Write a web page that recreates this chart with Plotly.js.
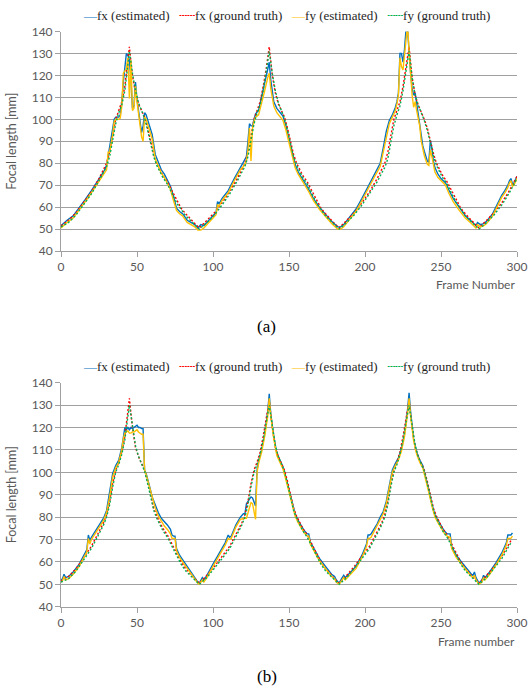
<!DOCTYPE html>
<html>
<head>
<meta charset="utf-8">
<script src="https://cdn.plot.ly/plotly-3.0.1.min.js"></script>
<style>html,body{margin:0;padding:0;background:#fff;}#chart{width:528px;height:689px;}</style>
</head>
<body>
<div id="chart"></div>
<script>
// ---------- Panel (a) ----------
const gtFramesA = [0,5,10,15,20,25,28,30,32,34,36,38,40,42,44,45,47,49,51,53,55,57,59,61,63,65,67,70,73,76,79,82,85,88,91,
  96,101,106,111,116,119,121,123,125,127,129,131,133,135,137,139,141,143,145,147,149,151,153,155,157,159,162,165,168,171,174,177,180,183,
  188,193,198,203,208,211,213,215,217,219,221,223,225,227,229,231,233,235,237,239,241,243,245,247,249,251,254,257,260,263,266,269,272,275,
  280,285,290,295,300];
const fxGtA = [51.5,54,57.5,62,67,73,77,80,85,93,100,104,108,115,127,133,120,112,107,104,101,96,90,84,80,77,74.5,71.5,67.5,63,59.5,57,54.5,52.5,50.5,
  54,57.5,62,67,73,77,80,85,93,100,104,108,115,123,133,120,112,107,104,101,96,90,84,80,77,74.5,71.5,67.5,63,59.5,57,54.5,52.5,50.5,
  54,57.5,62,67,73,77,80,85,93,100,104,108,115,124,133,119,111,106.5,103.5,100,96,90,84.5,80,77,74.5,71.5,67.5,63,59.5,57,54.5,52.5,50.5,
  54,57.5,62,67.5,74];
const fyGtA = [51,53,56.5,61,66,72,76,78.5,83,90,98,103,106.5,113,124,131,121,113,107.5,104,100.5,95,89,83,79,76,73.5,70.5,66.5,62,59,56,54,52,50,
  53,56.5,61,66,72,76,78.5,83,90,98,103,106.5,113,121,131,121,113,107.5,104,100.5,95,89,83,79,76,73.5,70.5,66.5,62,59,56,54,52,50,
  53,56.5,61,66,71.5,75.5,78,82,89,97,102,106,113,122,131,119,111,106.5,103,99.5,95,89,83.5,79,76,73.5,70.5,66.5,62,59,56,54,52,50,
  53,56.5,61,66.5,73];

const estFramesA = [0,4,8,12,16,20,24,28,30,31,32,34,35,36,38,39,40,41,42,43,44,45,46,47,48,49,50,51,52,53,54,55,56,57,58,60,62,64,66,68,70,72,74,76,78,80,83,86,88,90,
  92,94,96,98,100,102,103,104,106,110,114,118,120,122,123,124,125,126,127,128,130,132,134,136,137,138,140,142,144,146,148,150,152,154,156,158,160,163,166,170,174,178,182,
  184,186,190,194,198,202,206,210,212,214,216,218,220,221,222,223,224,225,226,227,228,229,230,231,232,233,234,235,236,237,238,239,240,241,242,243,244,245,246,248,250,253,255,258,262,266,270,273,274,
  276,278,280,284,286,288,290,292,294,295,296,297,298,300];
const fxEstA = [51.5,54,56,59.5,63.5,67.5,71.5,76,79,83,86,96,100,101,101,102,108,117,124,130,129,127,118,105,106,117,109,104,99,94,97,103,102,100,98,93,84,80,77,75,72,69.5,65,59.5,58,57,54,53,52,50.5,
  52,51.5,53,54.5,56,57.5,62.5,61.5,64,67.5,73,78,80,83,90,98,97,97,100,102.5,104,110,116,122,126,118,108,105,103.5,101.5,97,91,85,79.5,76,73.5,71.5,68,64,60,56.5,53.5,51,
  51,52,55.5,59,64,69.5,74.5,80,87,94.5,99.5,102,105.5,108,112,130,130,126,132,141,141,128,121,114,111,112,107,103,99,92,88,85.5,83.5,81,80.5,90.5,87,81,78,75,73,71,68,64,60,56,53.5,51.5,53,
  52,52.5,53.5,57,60,63,65.5,67.5,70,72,73,70.5,71,74];
const fyEstA = [50.5,53,55,58.5,62.5,66.5,70.5,74.5,77,85,85,93,99,100,100,100.5,106,121,122,123,128,109.5,127,104,105,115,108,103,96,92,90,101,100,98,96,91,82,78.5,75.5,73.5,71,68,63,58.5,57,56,53,52,51,49.5,
  49.5,50.5,52,53.5,55,56.5,61,60.5,63,66.5,72,77,78.5,81,86,96,81,96,99,101,102,107,113,119,121,114,106,103,101.5,99.5,95,89,82.5,78,75,72.5,70.5,67,63,59,55.5,52.5,50,
  50,51,54.5,58,63,68.5,73.5,78.5,85,92,98,101,104,107,111,128,124,122.5,130,138,143,131,120,111,105.5,108,104,100,97,90,86,83.5,81.5,79.5,79,86,83,78.5,76,73.5,72,70,66.5,62.5,58.5,55,52.5,50.5,52,
  51,51.5,52.5,56,59,62,64.5,66.5,69,71,72,69.5,70,73];

// ---------- Panel (b) ----------
const gtFramesB = [0,5,10,15,20,25,28,30,32,34,36,38,40,42,44,45,47,49,51,53,55,57,59,61,63,65,67,70,73,76,79,82,85,88,91,
  96,101,106,111,116,119,121,123,125,127,129,131,133,135,137,139,141,143,145,147,149,151,153,155,157,159,162,165,168,171,174,177,180,183,
  188,193,198,203,208,211,213,215,217,219,221,223,225,227,229,231,233,235,237,239,241,243,245,247,249,251,254,257,260,263,266,269,272,275,
  280,285,290,296];
const fxGtB = [51.5,53.5,57,62,67,73.5,77.5,81,87,95,101,104.5,109,116,127,133,120,111,107,104,101,96,90,84,80.5,77.5,75,72,68,63.5,60,57,54.5,52.5,50.5,
  54,58,62.5,67,73.5,77.5,81,87,95,101,104.5,109,116,124,132,120,111,107,104,101,96,90,84,80.5,77.5,75,72,68,63.5,60,57,54.5,52.5,50.5,
  54,58,62.5,67,73.5,77.5,81,87,95,101,104.5,109,116,124,132,120,111,107,104,101,96,90,84,80.5,77.5,75,72,68,63.5,60,57,54.5,52.5,50.5,
  54,58,62.5,69.5];
const fyGtB = [51,52.5,56,61,66,72.5,76.5,80,85.5,93.5,100,103.5,108,114.5,124,130,121,112,107,103.5,100.5,95,89,83,79.5,76.5,74,71,67,62.5,59,56,54,52,50,
  53,57,61.5,66,72.5,76.5,80,85.5,93.5,100,103.5,108,114.5,122,130,121,112,107,103.5,100.5,95,89,83,79.5,76.5,74,71,67,62.5,59,56,54,52,50,
  53,57,61.5,66,72.5,76.5,80,85.5,93.5,100,103.5,108,114.5,122,130,121,112,107,103.5,100.5,95,89,83,79.5,76.5,74,71,67,62.5,59,56,54,52,50,
  53,57,61.5,68.5];

const estFramesB = [0,1,2,3,5,8,12,16,17,18,19,20,24,28,30,32,34,36,38,40,41,42,43,44,45,46,47,48,49,50,51,52,53,54,55,56,58,60,62,64,66,68,70,72,73,74,75,76,78,80,84,86,87,88,90,
  91,92,93,94,96,100,104,108,110,111,112,115,118,120,121,122,124,125,126,127,128,129,130,132,134,136,137,138,140,142,144,146,148,150,152,154,156,158,160,162,163,164,166,170,174,178,180,181,
  183,184,185,186,187,190,194,198,200,201,202,203,204,208,210,212,214,215,216,218,220,222,224,226,228,229,230,232,234,236,238,240,242,244,246,248,250,252,254,256,257,260,264,268,270,271,272,273,275,277,278,279,282,286,290,292,293,294,296,297];
const fxEstB = [52,52.5,54.5,53,53.5,55.5,59,64,65.5,72,69.5,71,75,79.5,83,90.5,99.5,103,105.5,111,116,120,119,120,119,120,119.5,120,120.5,121,120,120,119.5,119.5,101,99.5,94.5,89,85.5,82,79.5,78,76.5,74.5,72,71.5,71.5,66,63,61,57,55,53.5,52.5,51,
  50.5,52,53,52,54,59,63.5,68.5,72,71,71.5,76.5,80,81.5,81.5,86,88,89,88.5,86.5,85,101,105,110,117,127,135,126,116,108.5,105.5,102.5,97.5,92,86,81.5,78.5,76,74,72.5,72.5,69,66.5,61.5,58,54.5,53.5,52,
  50.5,52,53,54,53,55,58,63,66,68,72,72,72.5,77,80,82.5,87,90.5,94,101,104,106.5,110.5,117,128,135.5,127,115,109,105.5,103,98,92,86,81,78.5,76,74,72.5,72.5,67,63,59.5,56,54.5,54,55.5,53,50.5,52,54,53,55.5,59.5,64,67,68.5,72,72,73];
const fyEstB = [51,51.5,53.5,52,52.5,54.5,58,63,64.5,70.5,68,70,74,78.5,82,89,98,102,104.5,110,115,117.5,118,118.5,117.5,117.5,118,118,118.5,119,118,117.5,117,117,101,99,94,88.5,84,80.5,78,76,74.5,72.5,70.5,70.5,70.5,65,62,60,56,54.5,53,52,50.5,
  50,51,52,51,53,58,62.5,67.5,70.5,70,70.5,75.5,79,79.5,79.5,79.5,85,86.5,86,83,79,100,104,109,116,125,133,125,115,107.5,104.5,101.5,96.5,91,85,80.5,77.5,75,73,71.5,71.5,68,65.5,60.5,57,53.5,52.5,51,
  50,51,52,53,52,54,57,62,65,67,70.5,70.5,71,76,79,81.5,86,89.5,93,100,103,105.5,109.5,116,126,133,125,114,108,104.5,102,97,91,85,80,77.5,75,73,71.5,71,66,62,58.5,55,53.5,53,54,52,50,51,53,52,54.5,58.5,63,66,67.5,70.5,70.5,71.5];

const xTicks = [0,50,100,150,200,250,300];
const seriesNames = ['fx (estimated)','fx (ground truth)','fy (estimated)','fy (ground truth)'];
const colors = ['#0070C0','#FF0000','#FFC000','#00B050'];

const lineStyle = (i) => ({color: colors[i], width: 1.4, dash: (i % 2 === 1) ? '2px,2px' : 'solid'});

function panel(xa, ya, fr, gfr, fxE, fxG, fyE, fyG) {
  return [
    {x: fr,  y: fxE, name: seriesNames[0], xaxis: xa, yaxis: ya, mode: 'lines', line: lineStyle(0), showlegend: false},
    {x: gfr, y: fxG, name: seriesNames[1], xaxis: xa, yaxis: ya, mode: 'lines', line: lineStyle(1), showlegend: false},
    {x: fr,  y: fyE, name: seriesNames[2], xaxis: xa, yaxis: ya, mode: 'lines', line: lineStyle(2), showlegend: false},
    {x: gfr, y: fyG, name: seriesNames[3], xaxis: xa, yaxis: ya, mode: 'lines', line: lineStyle(3), showlegend: false}
  ];
}

const data = [
  ...panel('x', 'y', estFramesA, gtFramesA, fxEstA, fxGtA, fyEstA, fyGtA),
  ...panel('x2', 'y2', estFramesB, gtFramesB, fxEstB, fxGtB, fyEstB, fyGtB)
];

const H = 689;
const tickFont = {family: 'Lato, Carlito, sans-serif', size: 12, color: '#595959'};
const gridC = '#a0a0a0';
function xAxis(anchor) {
  return {domain: [0, 1], anchor: anchor, range: [0, 300], tickvals: xTicks, ticks: 'outside', ticklen: 5,
    tickcolor: gridC, showline: true, linecolor: gridC, linewidth: 1, showgrid: false, zeroline: false,
    tickfont: tickFont, fixedrange: true};
}
function yAxis(anchor, dom) {
  return {domain: dom, anchor: anchor, range: [40, 140], dtick: 10, tick0: 40, ticks: 'outside', ticklen: 5,
    tickcolor: gridC, showline: true, linecolor: gridC, linewidth: 1, showgrid: true, gridcolor: gridC, gridwidth: 1,
    zeroline: false, tickfont: tickFont, fixedrange: true,
    title: {text: 'Focal length [mm]', standoff: 12, font: {family: 'Lato, Carlito, sans-serif', size: 12.5, color: '#595959'}}};
}

function legendText() {
  const g = (c, s, fam) => '<span style="color:' + c + ';font-family:' + fam + '">' + s + '</span>';
  const sp = '\u00A0\u00A0\u00A0';
  return g(colors[0], '\u2014', 'Liberation Serif') + seriesNames[0] + sp +
         g(colors[1], '\u2504\u2504', 'DejaVu Sans') + seriesNames[1] + sp +
         g(colors[2], '\u2014', 'Liberation Serif') + seriesNames[2] + sp +
         g(colors[3], '\u2504\u2504', 'DejaVu Sans') + seriesNames[3];
}
const py = (p) => 1 - p / H;
const px = (p) => (p - 61) / 456;

const legFont = {family: 'Liberation Serif, Times New Roman, serif', size: 13, color: '#262626'};
const lblFont = {family: 'Lato, Carlito, sans-serif', size: 12, color: '#595959'};
const capFont = {family: 'Liberation Serif, Times New Roman, serif', size: 17, color: '#000'};

const layout = {
  width: 528, height: 689,
  margin: {l: 61, r: 11, t: 0, b: 0},
  paper_bgcolor: '#fff', plot_bgcolor: '#fff',
  showlegend: false,
  xaxis: xAxis('y'),
  yaxis: yAxis('x', [py(251), py(31.5)]),
  xaxis2: xAxis('y2'),
  yaxis2: yAxis('x2', [py(606.7), py(382.7)]),
  annotations: [
    {xref: 'paper', yref: 'paper', x: px(286), y: py(15), xanchor: 'center', yanchor: 'middle', showarrow: false, text: legendText(), font: legFont},
    {xref: 'paper', yref: 'paper', x: px(286), y: py(366), xanchor: 'center', yanchor: 'middle', showarrow: false, text: legendText(), font: legFont},
    {xref: 'paper', yref: 'paper', x: 1, y: py(285), xanchor: 'right', yanchor: 'middle', showarrow: false, text: 'Frame Number', font: lblFont},
    {xref: 'paper', yref: 'paper', x: 1, y: py(641), xanchor: 'right', yanchor: 'middle', showarrow: false, text: 'Frame number', font: lblFont},
    {xref: 'paper', yref: 'paper', x: px(266.5), y: py(326), xanchor: 'center', yanchor: 'middle', showarrow: false, text: '(a)', font: capFont},
    {xref: 'paper', yref: 'paper', x: px(266.5), y: py(676), xanchor: 'center', yanchor: 'middle', showarrow: false, text: '(b)', font: capFont}
  ]
};

Plotly.newPlot('chart', data, layout, {staticPlot: true, displayModeBar: false});
</script>
</body>
</html>
